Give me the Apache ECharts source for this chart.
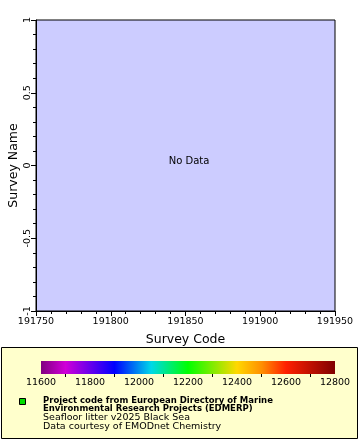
<!DOCTYPE html>
<html><head><meta charset="utf-8">
<style>html,body{margin:0;padding:0;background:#fff;}#c{width:360px;height:440px;}</style>
<script src="https://cdn.jsdelivr.net/npm/echarts@6/dist/echarts.min.js"></script>
</head><body><div id="c"></div>
<script>
const xRange = [191750, 191950];
const yRange = [-1, 1];
const colorbarRange = [11600, 12800];
const colorbarValues = [11600, 11700, 11900, 12050, 12200, 12400, 12500, 12600, 12800];
const colorbarColors = ['#800080', '#d000d8', '#0000ff', '#00d8e8', '#00ff00', '#ffd800', '#ff9000', '#ff2000', '#800000'];
const legendLines = [
  'Project code from European Directory of Marine',
  'Environmental Research Projects (EDMERP)',
  'Seafloor litter v2025 Black Sea',
  'Data courtesy of EMODnet Chemistry'
];
const noDataText = 'No Data';

const FONT = 'DejaVu Sans';
const chart = echarts.init(document.getElementById('c'), null, {renderer: 'canvas'});
const span = colorbarRange[1] - colorbarRange[0];
const stops = colorbarValues.map((v, i) => ({offset: (v - colorbarRange[0]) / span, color: colorbarColors[i]}));
const plain = v => String(v);

chart.setOption({
  animation: false,
  backgroundColor: '#ffffff',
  textStyle: {fontFamily: FONT},
  grid: [
    {left: 36, top: 20, width: 299, height: 291, show: true, backgroundColor: '#ccccff', borderColor: '#000', borderWidth: 1, containLabel: false, outerBoundsMode: 'none'},
    {left: 41, top: 361, width: 294, height: 13, show: false, containLabel: false, outerBoundsMode: 'none'}
  ],
  xAxis: [
    {type: 'value', gridIndex: 0, min: xRange[0], max: xRange[1], interval: 50,
     name: 'Survey Code', nameLocation: 'middle', nameGap: 22.5, nameMoveOverlap: false,
     nameTextStyle: {fontFamily: FONT, fontSize: 12.5, color: '#000'},
     axisLine: {show: true, onZero: false, lineStyle: {color: '#000', width: 1}},
     axisTick: {show: true, length: 5, lineStyle: {color: '#000'}},
     minorTick: {show: true, splitNumber: 5, length: 3, lineStyle: {color: '#000'}},
     splitLine: {show: false},
     axisLabel: {fontFamily: FONT, fontSize: 9.5, color: '#000', margin: 6, formatter: plain, showMinLabel: true, showMaxLabel: true}},
    {type: 'value', gridIndex: 1, min: colorbarRange[0], max: colorbarRange[1], interval: 200,
     axisLine: {show: false, onZero: false},
     axisTick: {show: false},
     minorTick: {show: true, splitNumber: 2, length: 3, lineStyle: {color: '#000'}},
     splitLine: {show: false},
     axisLabel: {fontFamily: FONT, fontSize: 9.5, color: '#000', margin: 4, formatter: plain, showMinLabel: true, showMaxLabel: true}}
  ],
  yAxis: [
    {type: 'value', gridIndex: 0, min: yRange[0], max: yRange[1], interval: 0.5,
     name: 'Survey Name', nameLocation: 'middle', nameGap: 16, nameRotate: 90, nameMoveOverlap: false,
     nameTextStyle: {fontFamily: FONT, fontSize: 12.5, color: '#000'},
     axisLine: {show: true, onZero: false, lineStyle: {color: '#000', width: 1}},
     axisTick: {show: true, length: 5, lineStyle: {color: '#000'}},
     minorTick: {show: true, splitNumber: 5, length: 3, lineStyle: {color: '#000'}},
     splitLine: {show: false},
     axisLabel: {fontFamily: FONT, fontSize: 9.5, color: '#000', margin: 3, rotate: 90, formatter: plain, showMinLabel: true, showMaxLabel: true}},
    {type: 'value', gridIndex: 1, min: 0, max: 1, show: false}
  ],
  graphic: [
    {type: 'rect', z: -10, shape: {x: 1.5, y: 347.5, width: 356, height: 91}, style: {fill: '#ffffcc', stroke: '#000', lineWidth: 1}},
    {type: 'rect', z: 10, shape: {x: 19.5, y: 398.5, width: 6, height: 6}, style: {fill: '#00dd00', stroke: '#000', lineWidth: 1}},
    {type: 'text', z: 10, x: 43, y: 396, style: {text: legendLines[0], font: 'bold 8.5px "DejaVu Sans"', fill: '#000'}},
    {type: 'text', z: 10, x: 43, y: 404.5, style: {text: legendLines[1], font: 'bold 8.5px "DejaVu Sans"', fill: '#000'}},
    {type: 'text', z: 10, x: 43, y: 413, style: {text: legendLines[2], font: '9.5px "DejaVu Sans"', fill: '#000'}},
    {type: 'text', z: 10, x: 43, y: 422, style: {text: legendLines[3], font: '9.5px "DejaVu Sans"', fill: '#000'}},
    {type: 'text', z: 10, x: 189, y: 161.5, style: {text: noDataText, font: '10px "DejaVu Sans"', fill: '#000', align: 'center', verticalAlign: 'middle'}}
  ],
  series: [
    {type: 'custom', xAxisIndex: 1, yAxisIndex: 1, silent: true,
     data: [[colorbarRange[0], colorbarRange[1]]],
     renderItem: function (params, api) {
       const p0 = api.coord([api.value(0), 1]);
       const p1 = api.coord([api.value(1), 0]);
       return {type: 'rect', shape: {x: p0[0], y: p0[1], width: p1[0] - p0[0], height: p1[1] - p0[1]},
         style: {fill: {type: 'linear', x: 0, y: 0, x2: 1, y2: 0, colorStops: stops}}};
     }}
  ]
});
</script></body></html>
